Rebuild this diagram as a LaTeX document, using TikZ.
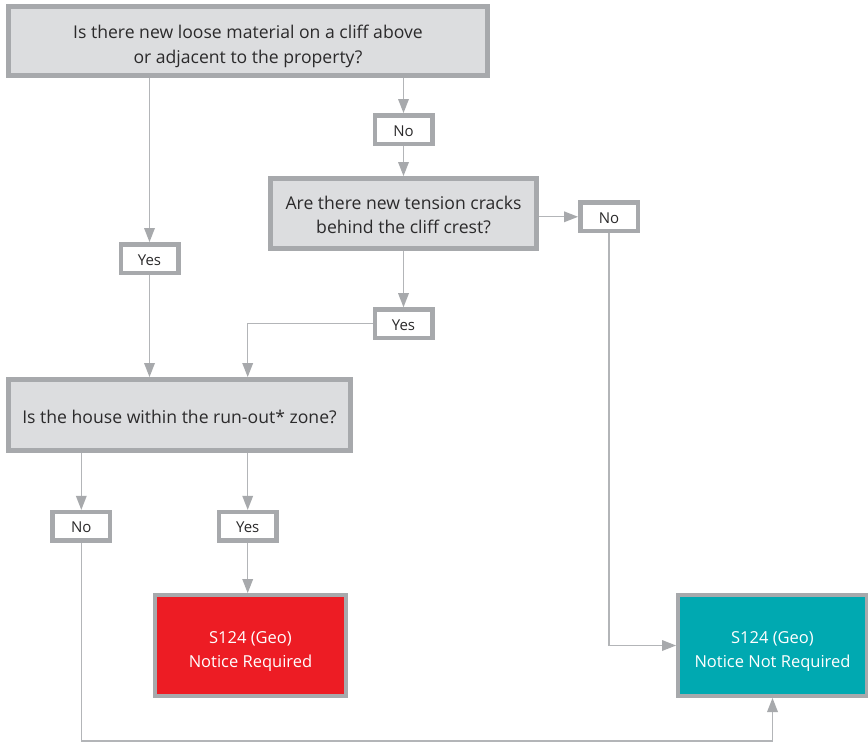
\documentclass[tikz,border=0pt]{standalone}
\usepackage{fontspec}
\setmainfont{Open Sans}
\usetikzlibrary{arrows.meta}

\definecolor{boxfill}{HTML}{DCDDDF}
\definecolor{boxline}{HTML}{A7A9AC}
\definecolor{wireline}{HTML}{B3B5B8}
\definecolor{inkgray}{HTML}{2B2A2B}
\definecolor{alertred}{HTML}{ED1C24}
\definecolor{calmteal}{HTML}{00A9B1}

% centred lines of text, set a little below the box's middle
\newcommand{\sunk}[2]{\raisebox{-#1}[\height][\depth]{\begin{tabular}{@{}c@{}}#2\end{tabular}}}

\tikzset{
  question/.style={draw=boxline, line width=5pt, fill=boxfill, inner sep=0pt,
    text=inkgray, font=\fontsize{17.6}{24.5}\selectfont},
  answer/.style={draw=boxline, line width=4.5pt, fill=white, inner sep=0pt,
    minimum width=57.5pt, minimum height=28.5pt, text=inkgray,
    font=\fontsize{15}{20}\selectfont},
  outcome/.style={draw=boxline, line width=4pt, inner sep=0pt,
    text=white, font=\fontsize{16.5}{23.5}\selectfont},
  wire/.style={draw=wireline, line width=1.3pt},
  flow/.style={wire, -{Triangle[length=14pt, width=11pt, color=boxline, fill=boxline, line width=0pt]}},
}

\begin{document}
\begin{tikzpicture}[x=1pt, y=-1pt]
  \useasboundingbox[fill=white] (0,0) rectangle (868,742);

  % decision boxes
  \node[question, minimum width=479pt, minimum height=69pt] (q1) at (248,41)
    {\sunk{5pt}{Is there new loose material on a cliff above\\or adjacent to the property?}};
  \node[question, minimum width=266pt, minimum height=70pt] (q2) at (403.5,213.5)
    {\sunk{3pt}{Are there new tension cracks\\behind the cliff crest?}};
  \node[question, minimum width=342pt, minimum height=71pt] (q3) at (179.5,415)
    {\sunk{4pt}{Is the house within the run-out* zone?}};

  % answer tags
  \node[answer] (yesA) at (149.5,258.5) {\sunk{2.5pt}{Yes}};
  \node[answer] (noA)  at (403.5,129.5) {\sunk{2.5pt}{No}};
  \node[answer] (noB)  at (609,216.8)   {\sunk{2.5pt}{No}};
  \node[answer] (yesB) at (403.5,323.7) {\sunk{2.5pt}{Yes}};
  \node[answer] (noC)  at (81.3,526.3)  {\sunk{2.5pt}{No}};
  \node[answer] (yesC) at (247.7,526.3) {\sunk{2.5pt}{Yes}};

  % outcomes
  \node[outcome, fill=alertred, minimum width=191pt, minimum height=101pt] (req) at (250.5,645.5)
    {\sunk{5.5pt}{S124 (Geo)\\Notice Required}};
  \node[outcome, fill=calmteal, minimum width=189pt, minimum height=101pt] (noreq) at (772.5,645.5)
    {\sunk{5.5pt}{S124 (Geo)\\Notice Not Required}};

  \coordinate (floor) at (0,741);

  % connectors
  \draw[flow] (yesA |- q1.south) -- (yesA.north);
  \draw[flow] (yesA.south) -- (yesA |- q3.north);
  \draw[flow] (q1.south -| noA) -- (noA.north);
  \draw[flow] (noA.south) -- (q2.north);
  \draw[flow] (q2.east |- noB) -- (noB.west);
  \draw[flow] (q2.south) -- (yesB.north);
  \draw[flow] (yesB.west) -| (yesC |- q3.north);
  \draw[flow] (noB.south) |- (noreq.west);
  \draw[flow] (q3.south -| noC) -- (noC.north);
  \draw[flow] (q3.south -| yesC) -- (yesC.north);
  \draw[flow] (yesC.south) -- (yesC |- req.north);
  \draw[flow] (noC.south) |- (noreq.south |- floor) -- (noreq.south);
\end{tikzpicture}
\end{document}
